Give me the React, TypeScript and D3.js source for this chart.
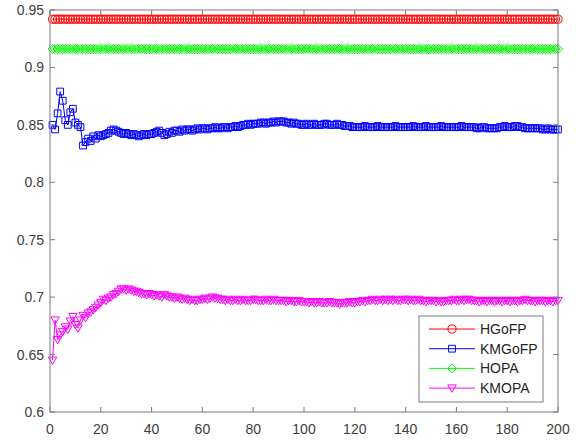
import React from 'react';
import * as d3 from 'd3';

const hgofpValue = 0.942;
const hopaValue = 0.916;

const kmgofp = [
	0.850, 0.846, 0.860, 0.879, 0.871, 0.854, 0.850, 0.861, 0.864, 0.852,
	0.850, 0.848, 0.832, 0.835, 0.838, 0.836, 0.840, 0.838, 0.841, 0.840,
	0.841, 0.842, 0.843, 0.845, 0.846, 0.845, 0.844, 0.843, 0.842, 0.843,
	0.842, 0.841, 0.842, 0.841, 0.840, 0.841, 0.842, 0.841, 0.842, 0.842,
	0.843, 0.844, 0.845, 0.843, 0.841, 0.842, 0.844, 0.843, 0.845, 0.845,
	0.844, 0.846, 0.845, 0.846, 0.846, 0.845, 0.846, 0.847, 0.846, 0.847,
	0.847, 0.846, 0.847, 0.847, 0.848, 0.847, 0.847, 0.848, 0.848, 0.847,
	0.848, 0.848, 0.849, 0.848, 0.849, 0.850, 0.850, 0.851, 0.850, 0.851,
	0.851, 0.851, 0.852, 0.852, 0.851, 0.852, 0.852, 0.853, 0.852, 0.853,
	0.853, 0.853, 0.852, 0.852, 0.851, 0.852, 0.851, 0.851, 0.850, 0.850,
	0.851, 0.850, 0.850, 0.851, 0.850, 0.850, 0.850, 0.851, 0.851, 0.850,
	0.850, 0.850, 0.851, 0.850, 0.850, 0.849, 0.849, 0.849, 0.848, 0.848,
	0.848, 0.848, 0.848, 0.849, 0.848, 0.848, 0.848, 0.848, 0.849, 0.848,
	0.848, 0.848, 0.848, 0.848, 0.848, 0.849, 0.848, 0.848, 0.848, 0.848,
	0.848, 0.848, 0.849, 0.848, 0.848, 0.848, 0.848, 0.849, 0.848, 0.848,
	0.848, 0.848, 0.848, 0.849, 0.848, 0.848, 0.848, 0.848, 0.848, 0.848,
	0.848, 0.849, 0.848, 0.848, 0.848, 0.848, 0.848, 0.847, 0.847, 0.848,
	0.848, 0.847, 0.847, 0.847, 0.847, 0.847, 0.848, 0.848, 0.849, 0.848,
	0.848, 0.848, 0.849, 0.849, 0.848, 0.848, 0.847, 0.847, 0.847, 0.847,
	0.847, 0.847, 0.847, 0.846, 0.846, 0.847, 0.846, 0.846, 0.846, 0.846,
];

const kmopa = [
	0.645, 0.680, 0.663, 0.667, 0.670, 0.674, 0.672, 0.679, 0.683, 0.676,
	0.673, 0.680, 0.684, 0.682, 0.686, 0.687, 0.689, 0.691, 0.693, 0.695,
	0.698, 0.697, 0.699, 0.700, 0.702, 0.703, 0.705, 0.707, 0.707, 0.706,
	0.707, 0.706, 0.705, 0.705, 0.704, 0.703, 0.703, 0.702, 0.703, 0.702,
	0.701, 0.702, 0.701, 0.700, 0.702, 0.701, 0.700, 0.700, 0.699, 0.700,
	0.699, 0.698, 0.699, 0.698, 0.697, 0.698, 0.697, 0.697, 0.698, 0.698,
	0.699, 0.698, 0.699, 0.700, 0.699, 0.699, 0.698, 0.698, 0.697, 0.698,
	0.697, 0.697, 0.698, 0.697, 0.697, 0.698, 0.697, 0.697, 0.697, 0.698,
	0.698, 0.697, 0.697, 0.697, 0.698, 0.697, 0.697, 0.698, 0.697, 0.697,
	0.697, 0.697, 0.696, 0.697, 0.697, 0.696, 0.696, 0.697, 0.696, 0.696,
	0.696, 0.695, 0.696, 0.695, 0.695, 0.696, 0.695, 0.695, 0.695, 0.696,
	0.695, 0.695, 0.695, 0.694, 0.695, 0.695, 0.695, 0.696, 0.695, 0.695,
	0.696, 0.696, 0.697, 0.696, 0.697, 0.697, 0.698, 0.697, 0.697, 0.698,
	0.697, 0.698, 0.697, 0.698, 0.697, 0.698, 0.697, 0.697, 0.698, 0.698,
	0.697, 0.698, 0.697, 0.697, 0.698, 0.697, 0.697, 0.696, 0.697, 0.697,
	0.697, 0.696, 0.697, 0.696, 0.696, 0.697, 0.697, 0.697, 0.698, 0.697,
	0.697, 0.698, 0.697, 0.698, 0.698, 0.697, 0.697, 0.697, 0.696, 0.697,
	0.697, 0.696, 0.697, 0.697, 0.696, 0.697, 0.697, 0.696, 0.697, 0.697,
	0.696, 0.697, 0.697, 0.696, 0.697, 0.697, 0.698, 0.697, 0.697, 0.697,
	0.696, 0.697, 0.697, 0.697, 0.696, 0.697, 0.697, 0.696, 0.697, 0.697,
];

const iterations = d3.range(1, 201);
const xTicks = [0, 20, 40, 60, 80, 100, 120, 140, 160, 180, 200];
const yTicks = [0.6, 0.65, 0.7, 0.75, 0.8, 0.85, 0.9, 0.95];
const seriesNames = ['HGoFP', 'KMGoFP', 'HOPA', 'KMOPA'];
const seriesColors = ['#ff0000', '#0000ff', '#00ff00', '#ff00ff'];

const W = 576, H = 441;
const margin = { left: 50, right: 18, top: 10, bottom: 29 };
const axisColor = '#7a7a7a';
const textColor = '#404040';
const font = 'Liberation Sans, Arial, Helvetica, sans-serif';

// marker paths centred on 0,0
const markerPath = (i: number) => {
	if (i === 0) return d3.symbol().type(d3.symbolCircle).size(52)()!;
	if (i === 1) return d3.symbol().type(d3.symbolSquare).size(46)()!;
	if (i === 2) return 'M0,-4.6L4.6,0L0,4.6L-4.6,0Z';
	return 'M-4.2,-3.2L4.2,-3.2L0,4.2Z';
};

const App = () => {
	const x = d3.scaleLinear().domain([0, 200]).range([margin.left, W - margin.right]);
	const y = d3.scaleLinear().domain([0.6, 0.95]).range([H - margin.bottom, margin.top]);

	const seriesData = [
		iterations.map(() => hgofpValue),
		kmgofp,
		iterations.map(() => hopaValue),
		kmopa,
	];

	const line = d3.line<number>()
		.x((_, i) => x(iterations[i]))
		.y(d => y(d));

	const x0 = x(0), x1 = x(200), y0 = y(0.6), y1 = y(0.95);
	const tickLen = 5;

	const lgX = 419, lgY = 316, lgW = 124, lgH = 86;

	return (
		<svg width={W} height={H} style={{ position: 'absolute', left: 0, top: 0, background: '#fff' }}>
			<rect x={0} y={0} width={W} height={H} fill='#fff' />
			<defs>
				<clipPath id='plot'>
					<rect x={x0 - 6} y={y1 - 6} width={x1 - x0 + 12} height={y0 - y1 + 12} />
				</clipPath>
			</defs>

			{/* series */}
			<g clipPath='url(#plot)'>
				{seriesData.map((vals, s) => (
					<g key={seriesNames[s]}>
						<path d={line(vals)!} fill='none' stroke={seriesColors[s]} strokeWidth={1} />
						{vals.map((v, i) => (
							<path
								key={i}
								d={markerPath(s)}
								transform={`translate(${x(iterations[i])},${y(v)})`}
								fill='none'
								stroke={seriesColors[s]}
								strokeWidth={1}
							/>
						))}
					</g>
				))}
			</g>

			{/* box */}
			<rect x={x0} y={y1} width={x1 - x0} height={y0 - y1} fill='none' stroke={axisColor} strokeWidth={1} />

			{/* x ticks */}
			{xTicks.map(t => (
				<g key={'x' + t}>
					<line x1={x(t)} x2={x(t)} y1={y0} y2={y0 - tickLen} stroke={axisColor} />
					<line x1={x(t)} x2={x(t)} y1={y1} y2={y1 + tickLen} stroke={axisColor} />
					<text x={x(t)} y={y0 + 22} textAnchor='middle' fill={textColor} fontSize={14} fontFamily={font}>{t}</text>
				</g>
			))}

			{/* y ticks */}
			{yTicks.map(t => (
				<g key={'y' + t}>
					<line x1={x0} x2={x0 + tickLen} y1={y(t)} y2={y(t)} stroke={axisColor} />
					<line x1={x1} x2={x1 - tickLen} y1={y(t)} y2={y(t)} stroke={axisColor} />
					<text x={x0 - 6} y={y(t) + 5} textAnchor='end' fill={textColor} fontSize={14} fontFamily={font}>{t}</text>
				</g>
			))}

			{/* legend */}
			<rect x={lgX} y={lgY} width={lgW} height={lgH} fill='#fff' stroke={axisColor} strokeWidth={1} />
			{seriesNames.map((name, s) => {
				const ly = lgY + 13 + s * 19.7;
				return (
					<g key={'lg' + name}>
						<line x1={lgX + 10} x2={lgX + 56} y1={ly} y2={ly} stroke={seriesColors[s]} strokeWidth={1} />
						<path d={markerPath(s)} transform={`translate(${lgX + 33},${ly})`} fill='none' stroke={seriesColors[s]} strokeWidth={1} />
						<text x={lgX + 61} y={ly + 5} fill='#262626' fontSize={14} fontFamily={font}>{name}</text>
					</g>
				);
			})}
		</svg>
	);
};

export default App;
